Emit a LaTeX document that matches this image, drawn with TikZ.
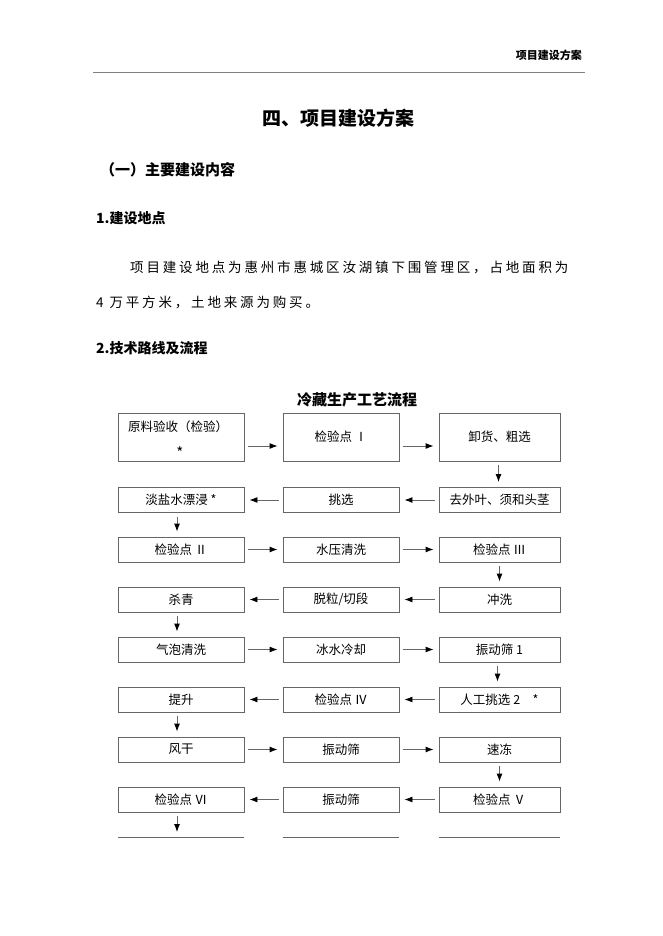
\documentclass[tikz,border=0pt]{standalone}
\usepackage{fontspec}
\setmainfont{Noto Sans CJK SC}
\usetikzlibrary{arrows.meta}
\tikzset{
  stepbox/.style={draw=black!60, line width=0.9pt, minimum height=25pt, inner sep=0pt, font=\fontsize{12.5}{14}\selectfont},
  colA/.style={stepbox, minimum width=126pt},
  colB/.style={stepbox, minimum width=116pt},
  colC/.style={stepbox, minimum width=121pt},
  flow/.style={draw=black!60, line width=0.9pt, -{Latex[length=8pt,width=6pt,color=black]}, shorten <=4pt, shorten >=5pt},
  headtext/.style={font=\bfseries\fontsize{14}{16}\selectfont, anchor=west, inner sep=0pt},
  bodytext/.style={font=\fontsize{13.5}{16}\selectfont\addfontfeature{LetterSpace=21}, anchor=west, inner sep=0pt}
}
\begin{document}
\begin{tikzpicture}[x=1pt,y=-1pt]
\useasboundingbox (0,0) rectangle (662,936);
% page header
\node[font=\bfseries\fontsize{11}{13}\selectfont, anchor=east, inner sep=0pt] (hdr) at (582,55) {项目建设方案};
\draw[black!50, line width=0.9pt] (93,72) coordinate (rl) -- (585,72) coordinate (rr);
% titles and text
\node[font=\bfseries\fontsize{19}{22}\selectfont, inner sep=0pt] (title) at (338,118) {四、项目建设方案};
\node[headtext, font=\bfseries\fontsize{15}{17}\selectfont] (sec) at (100,170) {（一）主要建设内容};
\node[headtext] (sub1) at (96,218) {1.建设地点};
\node[bodytext] (par1) at (130,267) {项目建设地点为惠州市惠城区汝湖镇下围管理区，占地面积为};
\node[bodytext] (par2) at (96,303) {4 万平方米，土地来源为购买。};
\node[headtext] (sub2) at (96,348) {2.技术路线及流程};
\node[font=\bfseries\fontsize{15}{17}\selectfont, inner sep=0pt] (ftitle) at (357,400) {冷藏生产工艺流程};

% the boxes, row by row
\node[colA, minimum height=48pt] (ys) at (181,437) {};
\node[font=\fontsize{12.5}{14}\selectfont, inner sep=0pt] (ysa) at (178,427) {原料验收（检验）};
\node[font=\fontsize{15}{15}\selectfont, inner sep=0pt] (ysb) at (180,453) {*};
\node[colB, minimum height=48pt] (jy1) at (341,437) {检验点 Ⅰ};
\node[colC, minimum height=48pt] (xh) at (499.5,437) {卸货、粗选};
\node[colA] (dyj) at (181,500) {淡盐水漂浸 *};
\node[colB] (tx) at (341,500) {挑选};
\node[colC] (qwy) at (499.5,500) {去外叶、须和头茎};
\node[colA] (jy2) at (181,549.5) {检验点 Ⅱ};
\node[colB] (syqx) at (341,549.5) {水压清洗};
\node[colC] (jy3) at (499.5,549.5) {检验点 Ⅲ};
\node[colA] (sq) at (181,599.5) {杀青};
\node[colB] (tl) at (341,599.5) {脱粒/切段};
\node[colC] (cx) at (499.5,599.5) {冲洗};
\node[colA] (qpqx) at (181,649.5) {气泡清洗};
\node[colB] (bslq) at (341,649.5) {冰水冷却};
\node[colC] (zds1) at (499.5,649.5) {振动筛 1};
\node[colA] (ts) at (181,699.5) {提升};
\node[colB] (jy4) at (341,699.5) {检验点 Ⅳ};
\node[colC] (rgtx) at (499.5,699.5) {人工挑选 2\quad *};
\node[colA] (fg) at (181,749.5) {风干};
\node[colB] (zds2) at (341,749.5) {振动筛};
\node[colC] (sd) at (499.5,749.5) {速冻};
\node[colA] (jy6) at (181,799.5) {检验点 Ⅵ};
\node[colB] (zds3) at (341,799.5) {振动筛};
\node[colC] (jy5) at (499.5,799.5) {检验点 Ⅴ};

% tops of the next row, cut off by the page
\draw[black!60, line width=0.9pt] (118,837) coordinate (e1l) -- (244,837) coordinate (e1r);
\draw[black!60, line width=0.9pt] (283,837) coordinate (e2l) -- (399,837) coordinate (e2r);
\draw[black!60, line width=0.9pt] (439,837) coordinate (e3l) -- (560,837) coordinate (e3r);
\coordinate (e1) at (177,837);

% arrows
\draw[flow] ([yshift=-9pt]ys.east) -- ([yshift=-9pt]jy1.west);
\draw[flow] ([yshift=-9pt]jy1.east) -- ([yshift=-9pt]xh.west);
\draw[flow] ([xshift=-1pt]xh.south) -- ([xshift=-1pt]qwy.north);
\draw[flow] (qwy) -- (tx);
\draw[flow] (tx) -- (dyj);
\draw[flow] ([xshift=-4pt]dyj.south) -- ([xshift=-4pt]jy2.north);
\draw[flow] (jy2) -- (syqx);
\draw[flow] (syqx) -- (jy3);
\draw[flow] (jy3.south) -- (cx.north);
\draw[flow] (cx) -- (tl);
\draw[flow] (tl) -- (sq);
\draw[flow] ([xshift=-4pt]sq.south) -- ([xshift=-4pt]qpqx.north);
\draw[flow] (qpqx) -- (bslq);
\draw[flow] (bslq) -- (zds1);
\draw[flow] ([xshift=-2pt]zds1.south) -- ([xshift=-2pt]rgtx.north);
\draw[flow] (rgtx) -- (jy4);
\draw[flow] (jy4) -- (ts);
\draw[flow] ([xshift=-4pt]ts.south) -- ([xshift=-4pt]fg.north);
\draw[flow] (fg) -- (zds2);
\draw[flow] (zds2) -- (sd);
\draw[flow] (sd.south) -- (jy5.north);
\draw[flow] (jy5) -- (zds3);
\draw[flow] (zds3) -- (jy6);
\draw[flow] ([xshift=-4pt]jy6.south) -- (e1);
\end{tikzpicture}
\end{document}
